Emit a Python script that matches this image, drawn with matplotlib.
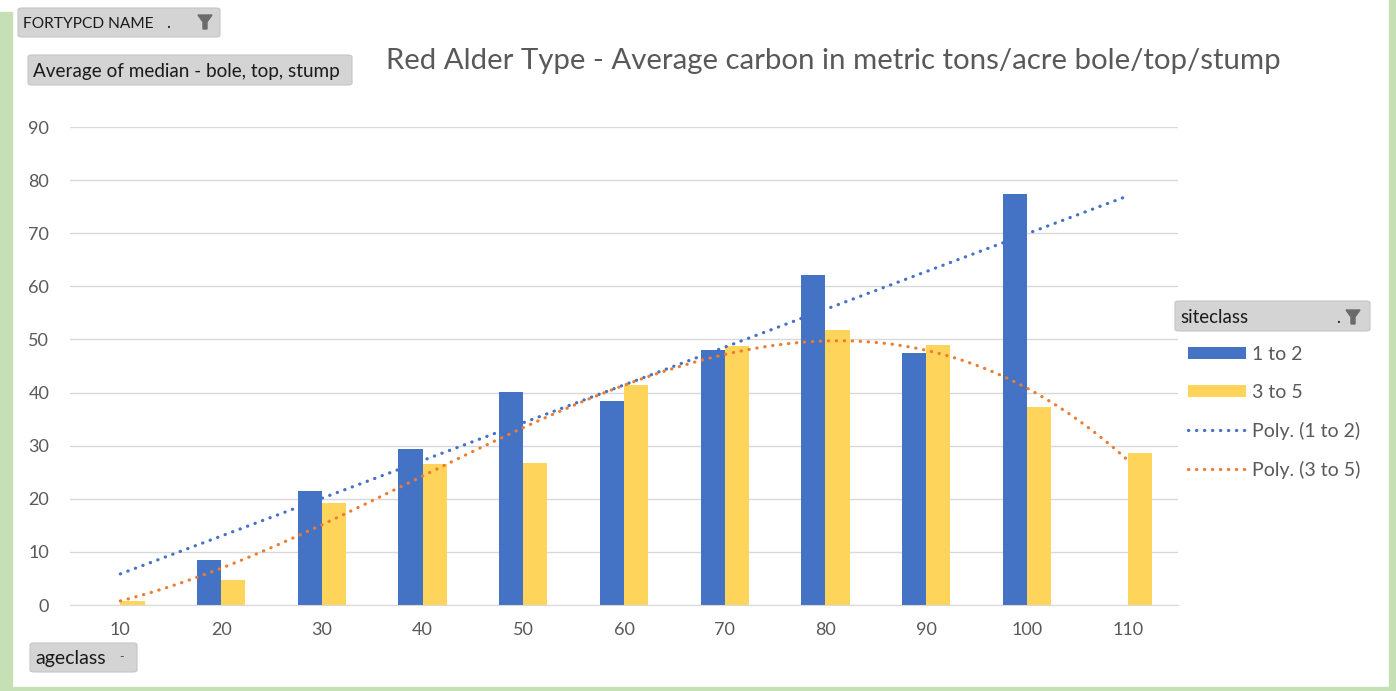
import numpy as np
import matplotlib.pyplot as plt
from matplotlib.patches import FancyBboxPatch, Rectangle, Polygon

plt.rcParams['font.family'] = ['Lato', 'DejaVu Sans']

# ageclass categories and average carbon (metric tons/acre) per siteclass
ageclass = [10, 20, 30, 40, 50, 60, 70, 80, 90, 100, 110]
site_1_2 = [np.nan, 8.5, 21.5, 29.4, 40.1, 38.4, 48.0, 62.1, 47.5, 77.4, np.nan]
site_3_5 = [0.8, 4.7, 19.2, 26.5, 26.7, 41.4, 48.8, 51.8, 49.0, 37.3, 28.6]

W, H = 1396, 691
BLUE = '#4472C4'
GOLD = '#FFD45A'
ORANGE = '#ED7D31'
GREEN = '#C5E0B4'
GREY_TXT = '#595959'

fig = plt.figure(figsize=(W / 100, H / 100), dpi=100)


def fx(x):
    return x / W


def fy(y):
    return 1 - y / H


# light green frame around the sheet
for x0, y0, x1, y1 in [(0, 12, 12, H), (0, 687, W, H), (1389, 0, W, H)]:
    fig.patches.append(Rectangle((fx(x0), fy(y1)), fx(x1) - fx(x0), fy(y0) - fy(y1),
                                 transform=fig.transFigure, color=GREEN, zorder=-5))

ax = fig.add_axes([fx(70), fy(605), fx(1178) - fx(70), fy(127) - fy(605)])
ax.patch.set_alpha(0)
x = np.arange(1, len(ageclass) + 1)
bw = 0.24
ax.bar(x - bw / 2, site_1_2, width=bw, color=BLUE, label='1 to 2', zorder=2)
ax.bar(x + bw / 2, site_3_5, width=bw, color=GOLD, label='3 to 5', zorder=2)

# polynomial trendlines over the category positions
xs = np.linspace(1, len(ageclass), 200)
for vals, deg, col, lab in [(site_1_2, 1, BLUE, 'Poly. (1 to 2)'),
                            (site_3_5, 3, ORANGE, 'Poly. (3 to 5)')]:
    v = np.array(vals, dtype=float)
    ok = ~np.isnan(v)
    coef = np.polyfit(x[ok], v[ok], deg)
    ax.plot(xs, np.polyval(coef, xs), color=col, lw=2.3,
            linestyle=(0, (0.1, 2.4)), dash_capstyle='round', label=lab, zorder=3)

ax.set_xlim(0.5, len(ageclass) + 0.5)
ax.set_ylim(0, 90)
ax.set_yticks(range(0, 91, 10))
ax.set_xticks(x)
ax.set_xticklabels([str(a) for a in ageclass])
ax.grid(axis='y', color='#D9D9D9', lw=1, zorder=0)
for s in ['top', 'right', 'left']:
    ax.spines[s].set_visible(False)
ax.spines['bottom'].set_color('#D9D9D9')
ax.tick_params(length=0, colors=GREY_TXT, labelsize=13)
ax.tick_params(axis='y', pad=15)
ax.tick_params(axis='x', pad=12)

fig.text(fx(833), fy(61), 'Red Alder Type - Average carbon in metric tons/acre bole/top/stump',
         ha='center', va='center', fontsize=21.2, color=GREY_TXT)


def funnel(cx, cy):
    pts = [(cx - 7, cy - 6), (cx + 7, cy - 6), (cx + 2, cy + 1), (cx + 2, cy + 8),
           (cx - 2, cy + 8), (cx - 2, cy + 1)]
    fig.patches.append(Polygon([(fx(a), fy(b)) for a, b in pts], closed=True,
                               transform=fig.transFigure, color='#6b6b6b', zorder=5))


def button(x0, y0, x1, y1, label, fs=12.5):
    fig.patches.append(FancyBboxPatch((fx(x0), fy(y1)), fx(x1) - fx(x0), fy(y0) - fy(y1),
                                      boxstyle='round,pad=0,rounding_size=0.003',
                                      transform=fig.transFigure, facecolor='#D4D4D4',
                                      edgecolor='#C4C4C4', lw=0.8, zorder=4))
    fig.text(fx(x0 + 5), fy((y0 + y1) / 2 + 1), label, ha='left', va='center',
             fontsize=fs, color='#1a1a1a', zorder=6)


button(18, 8, 220, 37, 'FORTYPCD NAME', fs=11.2)
fig.text(fx(168), fy(23), '.', ha='center', va='center', fontsize=12, color='#1a1a1a', zorder=6)
funnel(205, 21)
button(28, 55, 352, 85, 'Average of median - bole, top, stump', fs=13.6)
button(30, 643, 137, 672, 'ageclass', fs=14)
fig.text(fx(122), fy(657), '-', ha='center', va='center', fontsize=9, color='#555555', zorder=6)
button(1175, 301, 1370, 331, 'siteclass', fs=13.5)
fig.text(fx(1338), fy(318), '.', ha='center', va='center', fontsize=12, color='#1a1a1a', zorder=6)
funnel(1353, 316)

# legend entries below the siteclass header
handles, labels = ax.get_legend_handles_labels()
order = [2, 3, 0, 1]
leg = fig.legend([handles[i] for i in order], [labels[i] for i in order],
                 loc='upper left', bbox_to_anchor=(fx(1180), fy(338)),
                 frameon=False, fontsize=14, labelcolor=GREY_TXT,
                 handlelength=3.0, handleheight=0.6, handletextpad=0.3,
                 labelspacing=1.08, borderaxespad=0)

fig.savefig('out.png', dpi=100, facecolor='white')
